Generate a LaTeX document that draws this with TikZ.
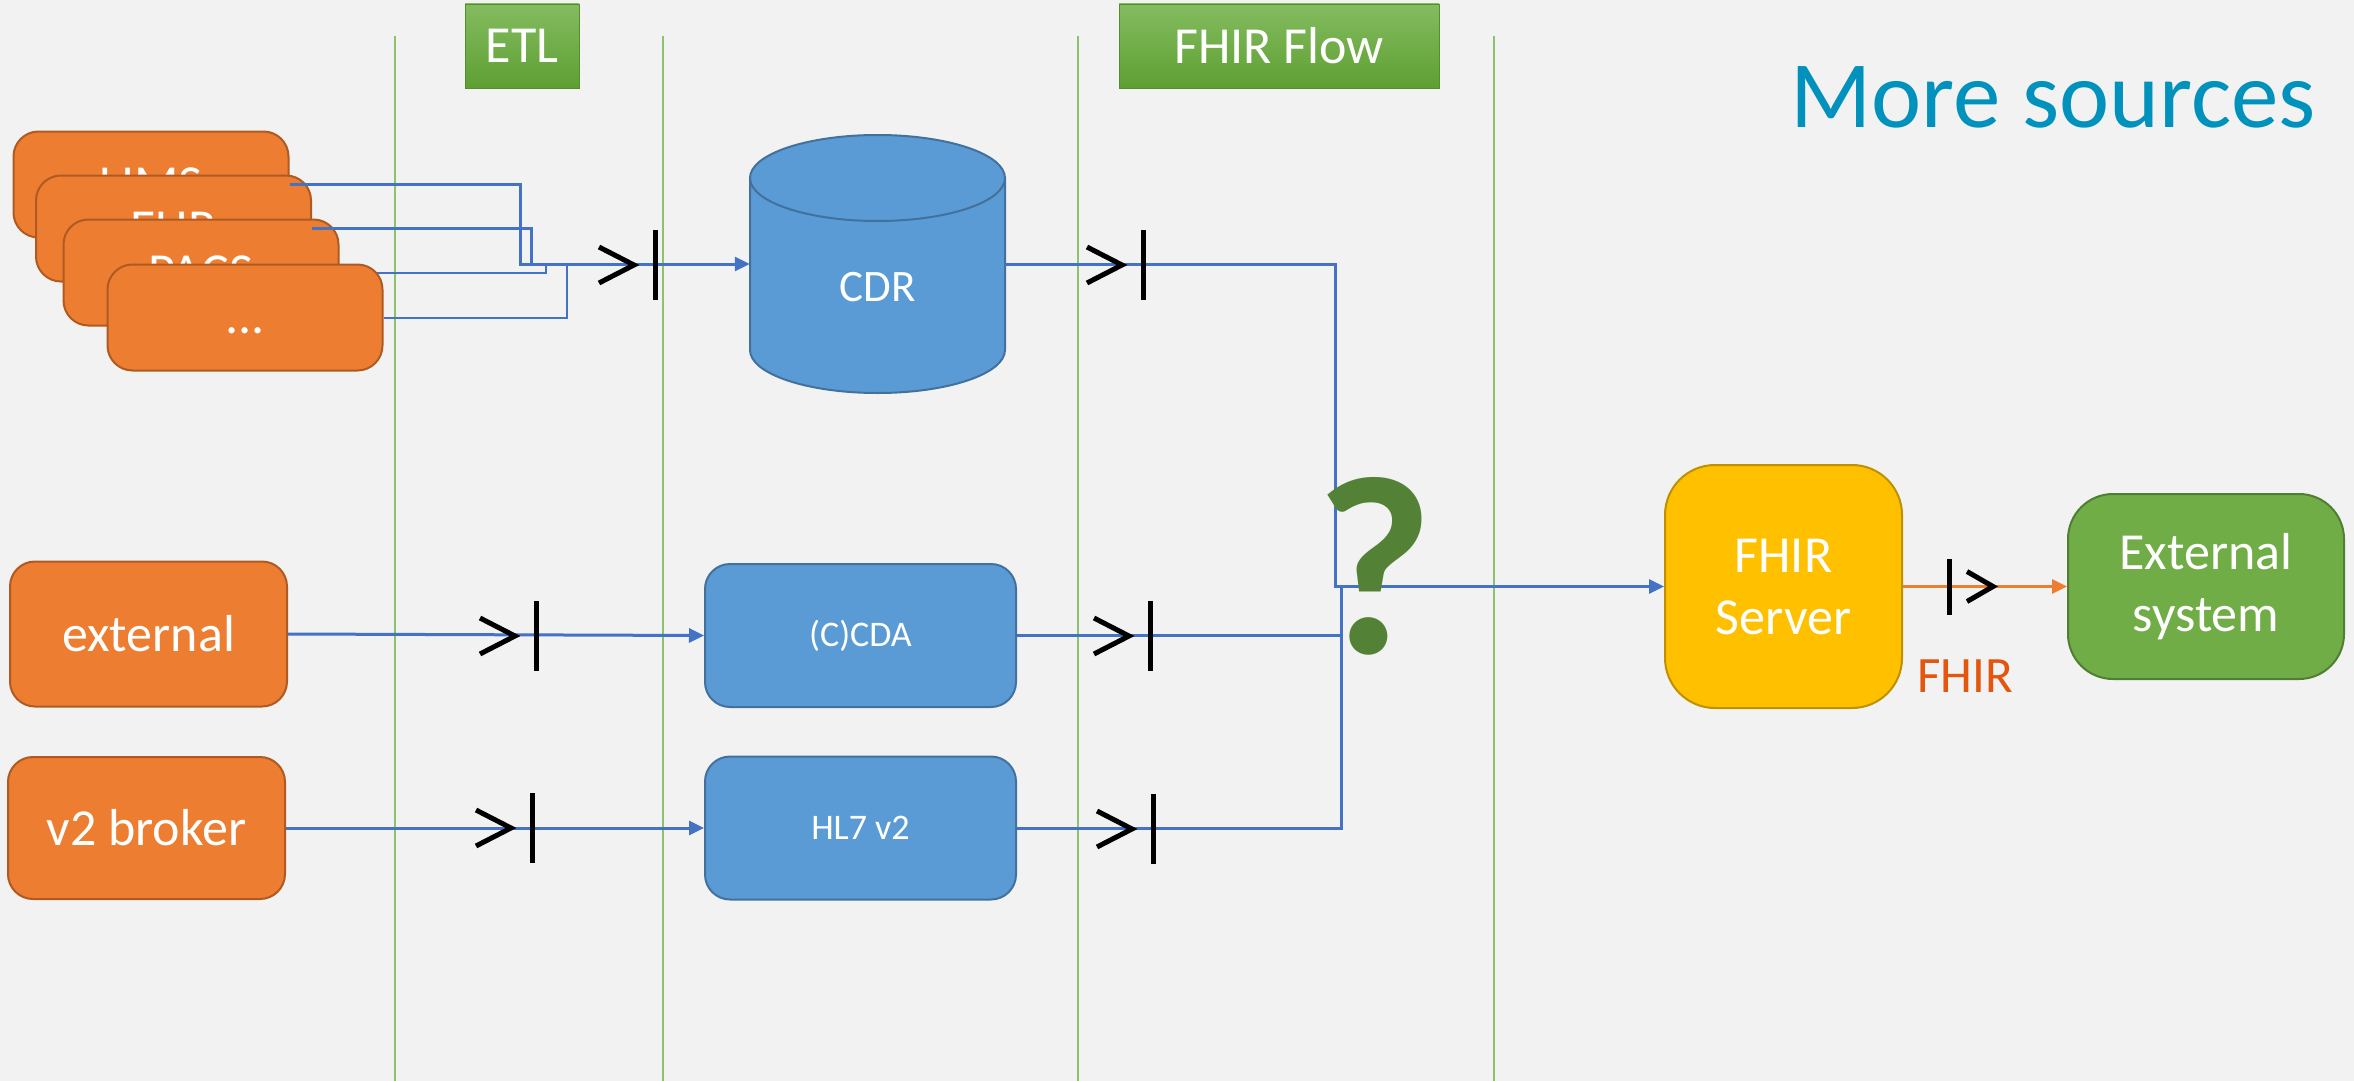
\documentclass[tikz,border=0pt]{standalone}
\usepackage{fontspec}
\setmainfont{Carlito}
\usetikzlibrary{arrows.meta,calc}
\definecolor{bgc}{HTML}{F2F2F2}
\definecolor{orfill}{HTML}{ED7D31}
\definecolor{ordraw}{HTML}{AE5A21}
\definecolor{blfill}{HTML}{5B9BD5}
\definecolor{bldraw}{HTML}{41719C}
\definecolor{linkblue}{HTML}{4472C4}
\definecolor{goldfill}{HTML}{FFC000}
\definecolor{golddraw}{HTML}{BF9000}
\definecolor{grfill}{HTML}{70AD47}
\definecolor{grdraw}{HTML}{507E32}
\definecolor{hdtop}{HTML}{84BC60}
\definecolor{hdbot}{HTML}{5E9F32}
\definecolor{lanegreen}{HTML}{8DC26B}
\definecolor{moreblue}{HTML}{0092BC}
\definecolor{qgreen}{HTML}{538135}
\definecolor{fhirred}{HTML}{E2570D}
\tikzset{
  srcbox/.style={rectangle, rounded corners=25pt, fill=orfill, draw=ordraw, line width=2pt,
    text=white, inner sep=0pt, font=\fontsize{52}{62}\selectfont},
  stackbox/.style={srcbox, minimum width=275pt, minimum height=106pt},
  bluebox/.style={rectangle, rounded corners=25pt, fill=blfill, draw=bldraw, line width=2pt,
    text=white, inner sep=0pt, minimum width=311pt, minimum height=143pt, font=\fontsize{36}{43}\selectfont},
  header/.style={rectangle, top color=hdtop, bottom color=hdbot, draw=hdbot!90!black, line width=0.8pt,
    text=white, inner sep=0pt, minimum height=84pt, font=\fontsize{52}{62}\selectfont},
  lane/.style={draw=lanegreen, line width=1.5pt},
  flow/.style={draw=linkblue, line width=3pt},
  thinflow/.style={draw=linkblue, line width=2pt},
  arr/.style={-{Triangle[length=15pt,width=14pt]}},
  ifline/.style={draw=black, line width=5pt, line join=miter},
  ifc/.pic={\draw[ifline] (-56,-18) -- (-21,0) -- (-56,18); \draw[ifline] (0,-35) -- (0,35);},
  ifcout/.pic={\draw[ifline] (0,-28) -- (0,28); \draw[ifline] (18,-15) -- (44,0) -- (18,15);}
}
\begin{document}
\begin{tikzpicture}[x=1pt,y=-1pt]
\useasboundingbox (0,0) rectangle (2354,1081);
\fill[bgc] (0,0) rectangle (2354,1081);

% lanes
\draw[lane] (395,36) -- (395,1081);
\draw[lane] (663,36) -- (663,1081);
\draw[lane] (1078,36) -- (1078,1081);
\draw[lane] (1494,36) -- (1494,1081);

% headers
\node[header, minimum width=114pt] (etl) at (522,46) {ETL};
\node[header, minimum width=320pt] (flowhd) at (1279,46) {FHIR Flow};

\node[text=moreblue, anchor=base, inner sep=0pt, font=\fontsize{95}{114}\selectfont] (more) at (2053,128) {More sources};

% CDR (cylinder drawn by hand around an invisible node)
\node[minimum width=255pt, minimum height=259pt, inner sep=0pt] (cdr) at (877.5,264) {};
\filldraw[fill=blfill, draw=bldraw, line width=2pt]
  (750,178) -- (750,350) arc[start angle=180, end angle=0, x radius=127.5, y radius=43] -- (1005,178) -- cycle;
\filldraw[fill=blfill, draw=bldraw, line width=2pt] (877.5,178) ellipse[x radius=127.5, y radius=43];
\node[text=white, inner sep=0pt, font=\fontsize{45}{54}\selectfont] (cdrtext) at (877.5,287.5) {CDR};

% stacked sources
\node[stackbox] (s1) at (151,184.5) {LIMS};
\node[stackbox] (s2) at (173.5,228.5) {EHR};
\node[stackbox] (s3) at (201,272.5) {PACS};
\coordinate (ja) at (520,264);
\coordinate (jb) at (531,264);
\coordinate (jc) at (546,264);
\coordinate (jd) at (567,264);
\draw[flow, arr] (s1.east) -| (ja) -- (cdr.west);
\draw[flow] (s2.east) -| (jb);
\draw[thinflow] (s3.east) -| (jc);
\node[stackbox] (s4) at (245,317.5) {\vphantom{L}...};
\draw[thinflow] (s4.east) -| (jd);
\pic at (655,265) {ifc};

% other sources
\node[srcbox, minimum width=277pt, minimum height=145pt] (ext) at (148.5,634) {external};
\node[srcbox, minimum width=277pt, minimum height=142pt] (v2) at (146.5,828) {v2 broker};
\node[bluebox] (ccda) at (860.5,635.5) {(C)CDA};
\node[bluebox] (hl7) at (860.5,828) {HL7 v2};
\draw[flow, arr] (ext.east) -- (ccda.west);
\draw[flow, arr] (v2.east) -- (hl7.west);
\pic at (536,636) {ifc};
\pic at (532,828) {ifc};

% FHIR server and external system
\node[rectangle, rounded corners=50pt, fill=goldfill, draw=golddraw, line width=2pt, text=white,
  minimum width=237pt, minimum height=243pt, inner sep=0pt, align=center,
  font=\fontsize{52}{62}\selectfont] (fhir) at (1783.5,586.5) {FHIR\\Server};
\node[rectangle, rounded corners=45pt, fill=grfill, draw=grdraw, line width=2pt, text=white,
  minimum width=276pt, minimum height=185pt, inner sep=0pt, align=center,
  font=\fontsize{52}{62}\selectfont] (extsys) at (2206,586.5) {External\\system};

% joins into FHIR server
\coordinate (jq) at (1335,586.5);
\coordinate (jr) at (1341,586.5);
\draw[flow, arr] (cdr.east) -| (jq) -- (fhir.west);
\draw[flow] (ccda.east) -| (jr);
\draw[flow] (hl7.east) -| (jr);
\pic at (1143,265) {ifc};
\pic at (1150,636) {ifc};
\pic at (1153,829) {ifc};

\node[text=qgreen, anchor=base, inner sep=0pt, font=\fontsize{255}{255}\selectfont\bfseries] (q) at (1375,653) {?};

% output
\draw[draw=orfill, line width=3pt, arr] (fhir.east) -- (extsys.west);
\pic at (1949,586.5) {ifcout};
\node[text=fhirred, inner sep=0pt, font=\fontsize{51}{61}\selectfont] (fhirlbl) at (1965,676.5) {FHIR};
\end{tikzpicture}
\end{document}
